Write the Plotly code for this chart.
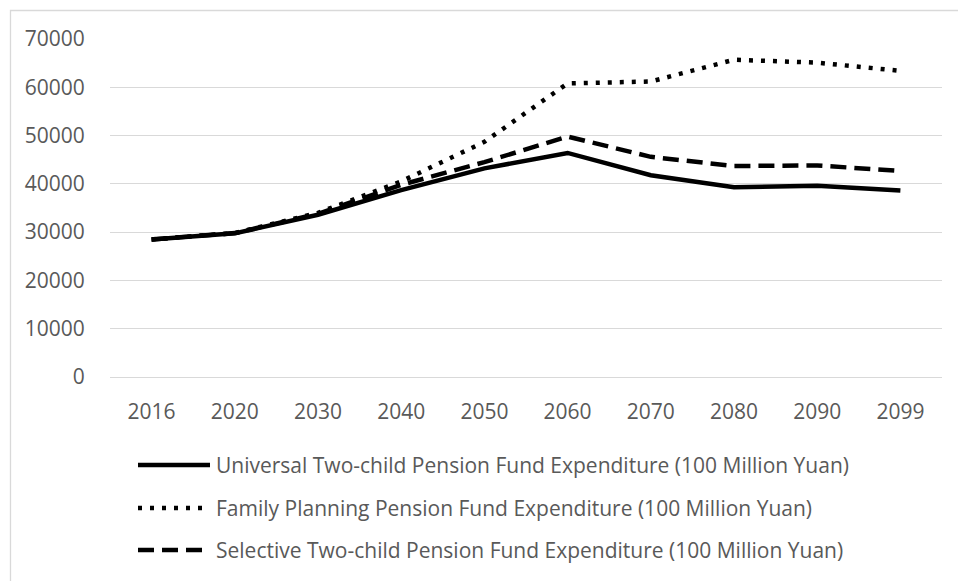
import plotly.graph_objects as go

years = ["2016", "2020", "2030", "2040", "2050", "2060", "2070", "2080", "2090", "2099"]
universal = [28500, 29750, 33600, 38700, 43200, 46400, 41800, 39300, 39600, 38600]
family = [28500, 29800, 34000, 40500, 48700, 60800, 61200, 65700, 65100, 63400]
selective = [28500, 29800, 33800, 39800, 44500, 49800, 45600, 43700, 43800, 42700]

names = [
    "Universal Two-child Pension Fund Expenditure (100 Million Yuan)",
    "Family Planning Pension Fund Expenditure (100 Million Yuan)",
    "Selective Two-child Pension Fund Expenditure (100 Million Yuan)",
]
dashes = ["solid", "4px,8px", "16px,8px"]
series = [universal, family, selective]

W, H = 958, 581
ML, MR, MT, MB = 110, 16, 39, 204
PW, PH = W - ML - MR, H - MT - MB


def px(x):
    return (x - ML) / PW


def py(y):
    return 1 - (y - MT) / PH


fig = go.Figure()
for vals, nm, dsh in zip(series, names, dashes):
    fig.add_trace(go.Scatter(
        x=years, y=vals, name=nm, mode="lines",
        line=dict(color="black", width=4.5, dash=dsh),
        showlegend=False,
    ))

font_family = "Open Sans"
txt_color = "#595959"

shapes = []
annotations = []
# outer border (top and left visible)
shapes.append(dict(type="rect", xref="paper", yref="paper",
                   x0=px(10.5), x1=px(990), y0=py(10.5), y1=py(620),
                   line=dict(color="#d9d9d9", width=1.3), layer="below"))

leg_y = [465, 508, 550]
leg_x1 = [210, 202, 204]
for nm, dsh, yy, x1 in zip(names, dashes, leg_y, leg_x1):
    shapes.append(dict(type="line", xref="paper", yref="paper",
                       x0=px(138), x1=px(x1), y0=py(yy), y1=py(yy),
                       line=dict(color="black", width=4.5, dash=dsh)))
    annotations.append(dict(xref="paper", yref="paper", x=px(214), y=py(yy),
                            xanchor="left", yanchor="middle", showarrow=False,
                            text=nm, font=dict(family=font_family, size=21, color=txt_color)))

fig.update_layout(
    width=W, height=H,
    margin=dict(l=ML, r=MR, t=MT, b=MB, pad=0),
    paper_bgcolor="white", plot_bgcolor="white",
    shapes=shapes, annotations=annotations,
    font=dict(family=font_family, size=21, color=txt_color),
    xaxis=dict(type="category", range=[-0.5, 9.5], showgrid=False,
               showline=False, zeroline=False,
               ticks="outside", ticklen=16, tickcolor="rgba(0,0,0,0)",
               tickfont=dict(family=font_family, size=21, color=txt_color)),
    yaxis=dict(range=[0, 70000], dtick=10000, showgrid=True,
               gridcolor="#d9d9d9", gridwidth=1.3,
               zeroline=True, zerolinecolor="#d9d9d9", zerolinewidth=1.3,
               showline=False, ticks="outside", ticklen=20,
               tickcolor="rgba(0,0,0,0)", tickformat="d",
               tickfont=dict(family=font_family, size=21, color=txt_color)),
)

fig.write_html("out.html")
